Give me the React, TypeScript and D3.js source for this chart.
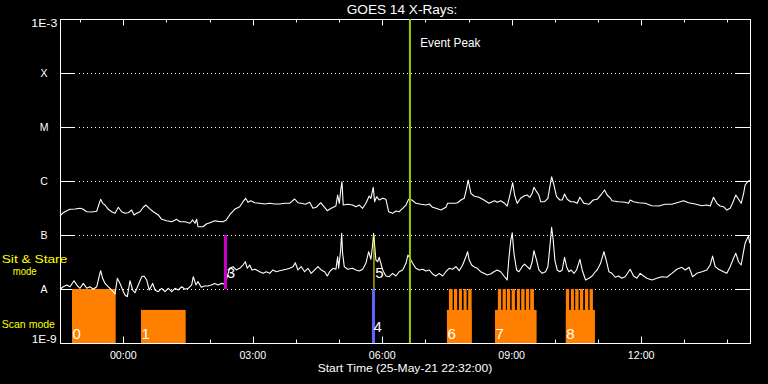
import React from 'react';
import * as d3 from 'd3';

// Start of plot: 25-May-21 22:32:00 UTC, 16 hours shown
const START = Date.UTC(2021, 4, 25, 22, 32, 0);
const SPAN_MIN = 960;

const yTickValues = [1e-3, 1e-4, 1e-5, 1e-6, 1e-7, 1e-8, 1e-9];
const yTickLabels = ['1E-3', 'X', 'M', 'C', 'B', 'A', '1E-9'];
const gridValues = [1e-4, 1e-5, 1e-6, 1e-7, 1e-8];

// minutes after start
const longTime = [0,4.6,9.3,13.9,20.9,27.8,32.4,37.1,44,51,54.6,56.5,59.3,62.6,67.2,71.8,76.5,81.1,85.7,90.4,95,99.6,102.9,106.6,111.2,115.8,119.5,124.1,129.7,136.6,141.4,148.3,155.3,162.2,166.8,173.8,180.7,184.4,187.7,190,
191.8,198.8,203.4,210.4,215,219.6,226.6,231.2,235.8,242.8,249.8,254.4,258.1,261.3,265.1,270.6,277.6,284.5,291.5,298.4,305.4,312.3,319.3,326.2,330.8,335.4,341,347.1,351.7,356.3,362.4,367,371.6,377.1,383.6,
386,388.3,390.6,392,393.8,399.9,406.9,411.4,416,420.8,425.3,429.9,432.3,435.5,437.4,440.2,443.8,448.6,453.1,456.9,462.5,467,471.6,476.4,481,484.7,489.3,494.8,501.8,508.7,513.3,518,522.6,529.6,536.5,538.9,549.5,552.8,557.4,562,565.3,567.5,571.3,575.5,
582.4,589.4,596.3,600.9,604.2,607.8,612.6,618.1,621.7,625.5,629.3,632,635.6,640.4,645,649.5,653.3,656.5,658.9,662.6,665.8,668.2,673.7,678.3,681.1,683.5,686.7,690.4,695,698.2,701.5,705.2,709.9,714.5,719.1,722.8,728.4,735.3,741.3,746.8,753.8,757.1,760.7,765.5,
767.3,776.6,785.8,790.5,792.7,797.4,804.4,813.6,822.9,832.2,841.4,850.7,860,866.9,873.9,883.1,892.4,899.3,903.9,908.6,913.2,917.8,922.5,927.1,931.7,935,939.6,943.4,947,950.3,952.5,956.3,959.1];

const longFlux = [2.25e-7,2.59e-7,2.82e-7,2.99e-7,3.03e-7,3.12e-7,2.99e-7,2.70e-7,2.67e-7,2.75e-7,3.86e-7,4.58e-7,3.86e-7,3.59e-7,2.99e-7,2.70e-7,2.52e-7,3.26e-7,2.70e-7,2.52e-7,2.59e-7,2.90e-7,2.35e-7,2.52e-7,2.70e-7,3.26e-7,3.59e-7,3.12e-7,2.70e-7,2.35e-7,1.95e-7,1.84e-7,1.76e-7,1.95e-7,1.76e-7,1.76e-7,1.65e-7,1.90e-7,1.65e-7,1.95e-7,
1.42e-7,1.42e-7,1.60e-7,1.72e-7,1.84e-7,1.79e-7,1.76e-7,1.90e-7,2.35e-7,2.99e-7,3.34e-7,4.14e-7,4.78e-7,4.03e-7,4.32e-7,3.96e-7,3.86e-7,3.75e-7,3.86e-7,3.75e-7,3.75e-7,3.86e-7,3.86e-7,4.64e-7,3.96e-7,3.86e-7,3.70e-7,4.03e-7,3.12e-7,3.26e-7,3.96e-7,3.34e-7,2.82e-7,3.12e-7,3.44e-7,
5.50e-7,3.86e-7,7.32e-7,9.70e-7,3.59e-7,3.70e-7,3.59e-7,3.34e-7,3.59e-7,3.12e-7,3.86e-7,5.27e-7,4.78e-7,7.64e-7,4.14e-7,5.12e-7,4.45e-7,4.78e-7,4.58e-7,2.70e-7,2.52e-7,2.78e-7,2.70e-7,3.12e-7,3.59e-7,4.58e-7,4.45e-7,3.86e-7,3.70e-7,3.59e-7,3.75e-7,3.26e-7,3.12e-7,2.90e-7,3.26e-7,3.86e-7,3.86e-7,3.96e-7,4.45e-7,4.78e-7,7.32e-7,1.04e-6,5.92e-7,5.27e-7,
4.99e-7,4.45e-7,3.86e-7,4.14e-7,4.32e-7,4.03e-7,4.32e-7,3.86e-7,3.44e-7,5.50e-7,9.30e-7,5.50e-7,3.86e-7,4.78e-7,5.27e-7,5.50e-7,4.99e-7,5.92e-7,7.64e-7,6.34e-7,5.50e-7,4.14e-7,4.14e-7,4.78e-7,7.84e-7,1.20e-6,8.43e-7,5.12e-7,4.45e-7,4.45e-7,5.75e-7,4.58e-7,4.14e-7,4.14e-7,3.86e-7,4.99e-7,3.86e-7,3.70e-7,4.45e-7,4.58e-7,5.92e-7,6.81e-7,5.50e-7,4.78e-7,
4.32e-7,4.14e-7,4.03e-7,3.86e-7,4.45e-7,4.14e-7,3.96e-7,3.86e-7,3.49e-7,3.44e-7,3.70e-7,3.70e-7,4.03e-7,4.32e-7,3.96e-7,3.75e-7,3.49e-7,3.59e-7,3.44e-7,4.99e-7,3.86e-7,3.44e-7,3.34e-7,2.90e-7,3.12e-7,3.86e-7,5.50e-7,4.58e-7,3.86e-7,5.75e-7,8.43e-7,9.70e-7,1.04e-6];

const shortTime = [0,4.6,9.3,13.9,19.5,23.2,27.8,32.4,37.1,41.7,46.3,51,54.6,56.5,59.3,62.6,67.2,71.8,76.5,79.7,83.4,87.1,90.4,93.6,97.3,101,104.3,108.8,113.6,116.8,120.5,124.1,128.9,132.1,136.6,141.4,146,150.5,155.3,159.9,164.4,169.2,173.8,178.3,183.1,185.3,189,191.8,
196.4,201.1,205.7,210.4,215,219.6,224.2,228.9,232.5,235.8,240.5,245.1,249.8,254.4,257.6,260.4,263.7,266.9,271.5,277.6,282.2,286.8,291.5,296.1,300.7,305.4,310,314.6,319.3,323.9,327.1,330.8,335.4,340.1,344.7,349.3,354,358.6,363.2,367.9,371.6,374.9,379.5,383.6,
386,387.4,390.2,391.6,392.9,395.2,399.9,406.9,411.4,416,420.8,425.3,429.1,432.3,434.6,436,439.2,441.6,443.8,448.6,453.1,457.7,462.5,467,471.6,476.4,481,483.7,486.5,490.3,494.8,499.4,504.2,508.7,513.3,518,522.6,527.2,532,536.5,541.1,545.9,550.4,555,559.8,564.3,566.7,568.9,572.3,575.5,
580,584.8,589.4,594,598.7,603.3,607.8,612.6,617.2,621.7,624.1,626.5,628.7,631.1,634.8,638,642.6,645.9,649.5,653.3,656.5,658.9,662.6,665.8,670.4,675.1,678.3,681.1,683.5,685.7,688,691.2,695,698.2,701.5,704.3,707.5,710.7,714.5,718.2,722.8,726,730.7,735.3,739.9,743.2,746.8,751.6,756.2,759.9,763.1,767.3,
771.9,776.6,781.2,785.8,792.7,797.4,802,806.6,811.3,815.9,822.9,829.8,836.8,843.7,850.7,857.6,864.6,869.2,874.7,879.5,885.4,892.4,899.3,903.9,907.3,910.9,915.6,922.5,927.1,931.7,936.4,939.6,943.4,947,950.3,952.5,954.9,957.2,959.1];

const shortFlux = [0.99e-8,1.10e-8,1.19e-8,1.10e-8,1.42e-8,1.19e-8,1.03e-8,1.27e-8,1.03e-8,1.10e-8,0.99e-8,1.10e-8,1.74e-8,2.18e-8,1.58e-8,1.27e-8,1.10e-8,0.958e-8,0.808e-8,1.58e-8,1.27e-8,0.958e-8,0.774e-8,0.72e-8,1.42e-8,0.958e-8,0.854e-8,1.19e-8,1.69e-8,1.74e-8,1.47e-8,0.958e-8,1.27e-8,0.958e-8,0.89e-8,1.03e-8,0.89e-8,1.03e-8,0.89e-8,1.03e-8,0.958e-8,1.10e-8,0.99e-8,1.03e-8,1.19e-8,1.69e-8,1.19e-8,1.37e-8,
1.08e-8,1.14e-8,1.14e-8,1.19e-8,1.27e-8,1.19e-8,1.27e-8,1.24e-8,1.69e-8,2.42e-8,2.59e-8,2.25e-8,2.42e-8,2.78e-8,3.20e-8,2.42e-8,2.78e-8,2.25e-8,2.32e-8,2.09e-8,1.95e-8,2.09e-8,1.95e-8,2.25e-8,2.09e-8,2.18e-8,2.25e-8,2.32e-8,2.42e-8,2.59e-8,3.07e-8,2.25e-8,2.59e-8,2.09e-8,2.42e-8,1.95e-8,2.25e-8,2.59e-8,2.25e-8,2.09e-8,1.74e-8,2.09e-8,2.42e-8,2.32e-8,
3.96e-8,2.42e-8,5.27e-8,10.8e-8,4.58e-8,2.59e-8,2.32e-8,2.42e-8,2.25e-8,2.15e-8,2.32e-8,2.99e-8,4.91e-8,3.55e-8,6.53e-8,10.8e-8,3.44e-8,3.20e-8,3.86e-8,2.25e-8,1.74e-8,1.69e-8,1.95e-8,1.74e-8,2.09e-8,2.25e-8,2.99e-8,4.26e-8,3.70e-8,2.99e-8,2.42e-8,2.25e-8,2.32e-8,2.15e-8,2.25e-8,1.90e-8,1.74e-8,1.95e-8,1.74e-8,2.09e-8,2.42e-8,2.32e-8,2.59e-8,2.18e-8,2.78e-8,3.96e-8,4.91e-8,3.44e-8,2.78e-8,2.59e-8,
2.42e-8,2.09e-8,1.95e-8,1.82e-8,1.90e-8,2.09e-8,2.25e-8,2.09e-8,1.74e-8,1.47e-8,3.70e-8,7.52e-8,11.0e-8,4.58e-8,2.25e-8,2.09e-8,2.59e-8,2.90e-8,2.59e-8,2.32e-8,3.20e-8,5.12e-8,3.44e-8,2.25e-8,1.95e-8,2.09e-8,2.59e-8,6.08e-8,13.9e-8,8.09e-8,3.44e-8,2.25e-8,2.09e-8,2.25e-8,3.86e-8,2.59e-8,2.09e-8,2.25e-8,1.95e-8,2.25e-8,3.55e-8,2.25e-8,1.47e-8,1.58e-8,1.74e-8,2.00e-8,2.25e-8,2.99e-8,4.91e-8,3.20e-8,2.09e-8,1.95e-8,
1.65e-8,1.74e-8,1.58e-8,1.69e-8,2.32e-8,1.74e-8,1.58e-8,1.95e-8,1.74e-8,1.58e-8,1.47e-8,1.58e-8,1.69e-8,1.65e-8,1.95e-8,2.32e-8,2.52e-8,2.25e-8,2.52e-8,1.69e-8,1.95e-8,2.09e-8,2.25e-8,2.78e-8,4.08e-8,2.59e-8,2.32e-8,2.09e-8,1.95e-8,2.59e-8,3.70e-8,4.58e-8,3.20e-8,2.78e-8,4.91e-8,7.01e-8,8.33e-8,9.58e-8,7.01e-8];

// Observation bars (minutes after start)
const scanLabels = ['0', '1', '6', '7', '8'];
const scanStart = [16.7, 112.6, 537.9, 604.7, 703.3];
const scanEnd = [77.4, 174.7, 572.3, 662.6, 743.7];
const scanTop = [1e-8, 4.1e-9, 4.1e-9, 4.1e-9, 4.1e-9];
const rasterStart = [540.7, 547.7, 554.6, 561.1, 567.5, 608.8, 615.4, 621.3, 627.9, 635.2, 641.2, 647.7, 653.7, 703.3, 710.3, 716.3, 722.8, 729.8, 736.3];
const rasterEnd = [545.9, 552.2, 558.8, 565.3, 572.3, 613.4, 619.9, 625.9, 632.5, 639.4, 645.9, 652.3, 658.9, 707.9, 714.5, 721, 727.4, 734.4, 740.9];
const rasterTop = 1e-8;

// Sit & stare markers
const markerLabels = ['3', '4', '5'];
const markerTime = [230, 435.8, 436.5];
const markerLow = [1e-8, 1e-9, 1e-8];
const markerHigh = [1e-7, 1e-8, 1e-7];
const eventPeakTime = 486.5;

const W = 768, H = 384;
const L = 60, R = 750.5, T = 19, B = 343;
const FONT = '"Liberation Sans", Arial, sans-serif';

const toDate = (m: number) => new Date(START + m * 60000);

export default function App() {
  const x = d3.scaleUtc().domain([toDate(0), toDate(SPAN_MIN)]).range([L, R]);
  const y = d3.scaleLog().domain([1e-9, 1e-3]).range([B, T]);

  const line = d3.line<[number, number]>().x(d => x(toDate(d[0]))).y(d => y(d[1]));
  const longPts: [number, number][] = longTime.map((t, i) => [t, longFlux[i]]);
  const shortPts: [number, number][] = shortTime.map((t, i) => [t, shortFlux[i]]);

  const hours = d3.utcHour.range(toDate(0), toDate(SPAN_MIN));
  const majors = hours.filter(h => h.getUTCHours() % 3 === 0);
  const fmt = d3.utcFormat('%H:%M');

  const markerColors = ['#cc00cc', '#6464ff', '#ffff00'];
  const markerWidths = [3, 3, 1];

  return (
    <svg width={W} height={H} style={{ position: 'absolute', left: 0, top: 0, display: 'block', background: '#000' }}>
      <rect x={0} y={0} width={W} height={H} fill="#000" />
      {/* grid dotted lines */}
      {gridValues.map(v => (
        <line key={'g' + v} x1={78.5} x2={736} y1={y(v)} y2={y(v)} stroke="#fff" strokeWidth={1} strokeDasharray="1 3" shapeRendering="crispEdges" />
      ))}
      {/* y ticks */}
      {gridValues.map(v => (
        <g key={'t' + v}>
          <line x1={L} x2={L + 14.5} y1={y(v)} y2={y(v)} stroke="#fff" shapeRendering="crispEdges" />
          <line x1={R - 14.5} x2={R} y1={y(v)} y2={y(v)} stroke="#fff" shapeRendering="crispEdges" />
        </g>
      ))}
      {/* x ticks */}
      {hours.map(h => {
        const major = h.getUTCHours() % 3 === 0;
        const len = major ? 6.5 : 3.5;
        const xx = Math.round(x(h)) + 0.5;
        return (
          <g key={'x' + h.getTime()}>
            <line x1={xx} x2={xx} y1={T} y2={T + len} stroke="#fff" />
            <line x1={xx} x2={xx} y1={B} y2={B - len} stroke="#fff" />
          </g>
        );
      })}
      {/* scan bars */}
      {scanLabels.map((lab, i) => (
        <rect key={'s' + lab} x={x(toDate(scanStart[i]))} y={y(scanTop[i])}
          width={x(toDate(scanEnd[i])) - x(toDate(scanStart[i]))} height={B - y(scanTop[i])} fill="#ff8000" />
      ))}
      {rasterStart.map((s, i) => (
        <rect key={'r' + i} x={x(toDate(s))} y={y(rasterTop)}
          width={x(toDate(rasterEnd[i])) - x(toDate(s))} height={B - y(rasterTop)} fill="#ff8000" />
      ))}
      {/* frame */}
      <rect x={L + 0.5} y={T + 0.5} width={R - L - 0.5} height={B - T} fill="none" stroke="#fff" strokeWidth={1} shapeRendering="crispEdges" />
      {/* curves */}
      <path d={line(longPts) || ''} fill="none" stroke="#fff" strokeWidth={1.1} strokeLinejoin="round" />
      <path d={line(shortPts) || ''} fill="none" stroke="#fff" strokeWidth={1.1} strokeLinejoin="round" />
      {/* markers */}
      {markerLabels.map((lab, i) => {
        const xc = x(toDate(markerTime[i]));
        return (
          <rect key={'m' + lab} x={xc - markerWidths[i] / 2} y={y(markerHigh[i])} width={markerWidths[i]}
            height={y(markerLow[i]) - y(markerHigh[i])} fill={markerColors[i]} />
        );
      })}
      {markerLabels.map((lab, i) => {
        const xc = x(toDate(markerTime[i]));
        const base = y(markerLow[i]) - 11.5;
        return (
          <text key={'ml' + lab} x={xc + (i === 1 ? 0 : 1.2)} y={base} fill="#fff" fontFamily={FONT} fontSize={15}>{lab}</text>
        );
      })}
      {/* event peak */}
      <rect x={x(toDate(eventPeakTime)) - 1} y={T} width={2} height={B - T} fill="#99cc00" />
      <text x={420.3} y={47} fill="#fff" fontFamily={FONT} fontSize={12} textLength={60} lengthAdjust="spacingAndGlyphs">Event Peak</text>
      {/* scan labels */}
      {scanLabels.map((lab, i) => (
        <text key={'sl' + lab} x={x(toDate(scanStart[i])) + 0.5} y={339} fill="#fff" fontFamily={FONT} fontSize={15}>{lab}</text>
      ))}
      {/* y labels */}
      {yTickValues.map((v, i) => {
        const lab = yTickLabels[i];
        if (lab === '1E-3') return <text key={lab} x={57.3} y={26.7} textAnchor="end" fill="#fff" fontFamily={FONT} fontSize={10.5} textLength={26} lengthAdjust="spacingAndGlyphs">{lab}</text>;
        if (lab === '1E-9') return <text key={lab} x={56.7} y={343.3} textAnchor="end" fill="#fff" fontFamily={FONT} fontSize={10.5} textLength={25} lengthAdjust="spacingAndGlyphs">{lab}</text>;
        return <text key={lab} x={44} y={y(v) + 4.3} textAnchor="middle" fill="#fff" fontFamily={FONT} fontSize={10.5}>{lab}</text>;
      })}
      {/* x labels */}
      {majors.map(h => (
        <text key={'xl' + h.getTime()} x={x(h)} y={359} textAnchor="middle" fill="#fff" fontFamily={FONT} fontSize={10.5} textLength={26.7} lengthAdjust="spacingAndGlyphs">{fmt(h)}</text>
      ))}
      <text x={405} y={371.5} textAnchor="middle" fill="#fff" fontFamily={FONT} fontSize={10.5} textLength={174.6} lengthAdjust="spacingAndGlyphs">Start Time (25-May-21 22:32:00)</text>
      {/* title */}
      <text x={402} y={13.5} textAnchor="middle" fill="#fff" fontFamily={FONT} fontSize={12} textLength={110.6} lengthAdjust="spacingAndGlyphs">GOES 14 X-Rays:</text>
      {/* mode labels */}
      <text x={1.7} y={263.3} fill="#ffff00" fontFamily={FONT} fontSize={11} textLength={65.6} lengthAdjust="spacingAndGlyphs">Sit &amp; Stare</text>
      <text x={12.7} y={275} fill="#ffff00" fontFamily={FONT} fontSize={11} textLength={24} lengthAdjust="spacingAndGlyphs">mode</text>
      <text x={1.7} y={328.3} fill="#ffff00" fontFamily={FONT} fontSize={11} textLength={53.3} lengthAdjust="spacingAndGlyphs">Scan mode</text>
    </svg>
  );
}
